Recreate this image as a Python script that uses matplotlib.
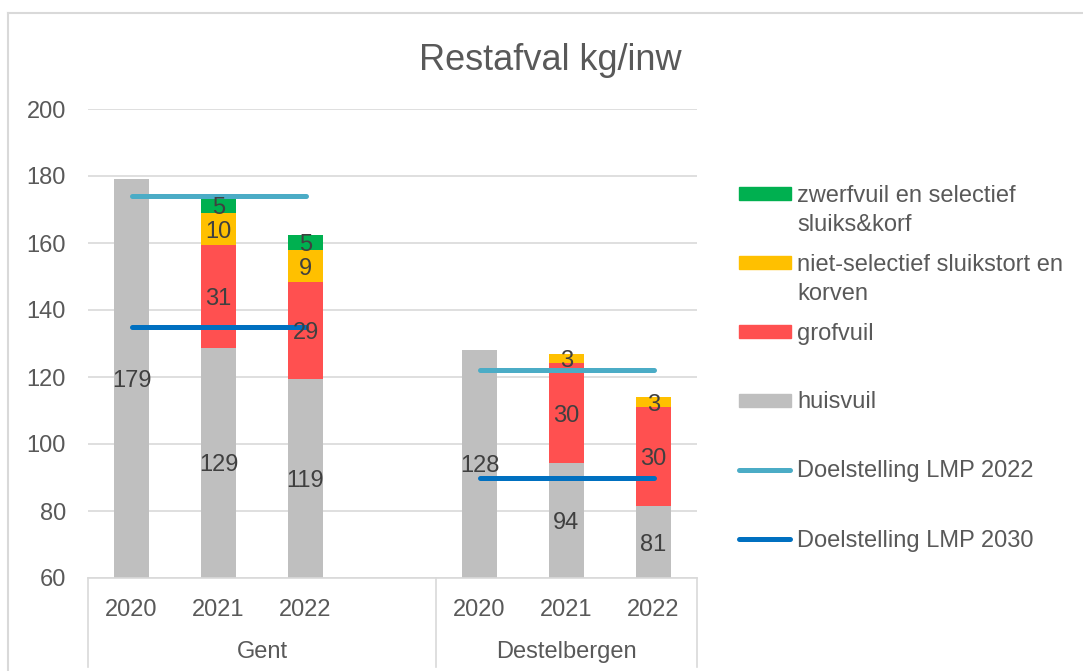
import numpy as np
import matplotlib
matplotlib.use('Agg')
import matplotlib.pyplot as plt
from matplotlib.patches import Rectangle
from matplotlib.lines import Line2D
import matplotlib.transforms as mtransforms

plt.rcParams['font.family'] = ['Liberation Sans', 'DejaVu Sans']

# data
years = ['2020', '2021', '2022', '2020', '2021', '2022']
groups = ['Gent', 'Destelbergen']
slots = [0, 1, 2, 4, 5, 6]          # one empty slot between the two groups
huisvuil = [179.0, 128.7, 119.4, 128.1, 94.3, 81.4]
grofvuil = [0.0, 30.6, 29.0, 0.0, 29.9, 29.5]
nietselectief = [0.0, 9.7, 9.4, 0.0, 2.8, 3.0]
zwerfvuil = [0.0, 4.6, 4.6, 0.0, 0.0, 0.0]
lmp2022 = [174, 174, 174, 122, 122, 122]
lmp2030 = [135, 135, 135, 90, 90, 90]

series = [('huisvuil', huisvuil, '#BFBFBF'),
          ('grofvuil', grofvuil, '#FF5050'),
          ('niet-selectief sluikstort en\nkorven', nietselectief, '#FFC000'),
          ('zwerfvuil en selectief\nsluiks&korf', zwerfvuil, '#00B050')]
lines = [('Doelstelling LMP 2022', lmp2022, '#4BACC6'),
         ('Doelstelling LMP 2030', lmp2030, '#0070C0')]

W, H = 1083, 671
ymin, ymax = 60, 200
txt = '#595959'
lab = '#404040'
grid = '#D9D9D9'
fs = 17

fig = plt.figure(figsize=(W / 100, H / 100), dpi=100)
ax = fig.add_axes([88 / W, 1 - 578 / H, (697 - 88) / W, (578 - 109) / H])

x = np.array(slots)
bottom = np.zeros(len(x))
for name, vals, col in series:
    vals = np.array(vals)
    ax.bar(x, vals, width=0.4, bottom=bottom, color=col, zorder=2)
    for xi, b, v in zip(x, bottom, vals):
        if v > 0:
            lo = max(b, ymin)
            ax.text(xi, (lo + b + v) / 2, f'{v:.0f}', ha='center', va='center_baseline',
                    fontsize=fs, color=lab, zorder=5)
    bottom = bottom + vals

for name, vals, col in lines:
    for g in range(2):
        ax.plot(x[g * 3:g * 3 + 3], vals[g * 3:g * 3 + 3], color=col, lw=3.6,
                solid_capstyle='round', zorder=4)

ax.set_xlim(-0.5, 6.5)
ax.set_ylim(ymin, ymax)
ax.set_yticks(range(60, 201, 20))
ax.tick_params(axis='y', length=0, pad=16, labelsize=fs, labelcolor=txt)
ax.set_xticks(slots)
ax.set_xticklabels(years)
ax.tick_params(axis='x', length=0, pad=15, labelsize=fs, labelcolor=txt)
ax.grid(axis='y', color=grid, lw=1.2, zorder=0)
ax.set_axisbelow(True)
for s in ['top', 'right', 'left']:
    ax.spines[s].set_visible(False)
ax.spines['bottom'].set_color(grid)
ax.spines['bottom'].set_linewidth(1.2)

# group labels and separators under the axis
tr = mtransforms.blended_transform_factory(ax.transData, ax.transAxes)
sep_low = -(667 - 578) / (578 - 109)
for xs in [-0.5, 3.5, 6.5]:
    ax.plot([xs, xs], [0, sep_low], transform=tr, color=grid, lw=1.2, clip_on=False)
for gx, gname in zip([1.5, 5.0], groups):
    ax.text(gx, -(652 - 578) / (578 - 109), gname, transform=tr, ha='center',
            va='center', fontsize=fs, color=txt)

fig.text(550 / W, 1 - 60 / H, 'Restafval kg/inw', ha='center', va='center',
         fontsize=26, color=txt)

# legend drawn by hand, rows 69 px apart
legend_items = [(n, c, 'patch') for n, v, c in series[::-1]] + \
               [(n, c, 'line') for n, v, c in lines]
for i, (name, col, kind) in enumerate(legend_items):
    yc = 193.5 + 69 * i
    if kind == 'patch':
        fig.add_artist(Rectangle((739 / W, 1 - (yc + 6.3) / H), 52 / W, 12.6 / H,
                                 transform=fig.transFigure, color=col))
    else:
        fig.add_artist(Line2D([739 / W, 790 / W], [1 - yc / H, 1 - yc / H],
                              transform=fig.transFigure, color=col, lw=3.6,
                              solid_capstyle='round'))
    nl = name.count('\n')
    fig.text(797 / W, 1 - (yc + 2 + 15 * nl) / H, name, ha='left', va='center',
             fontsize=fs, color=txt, linespacing=1.4)

# chart border (top and left visible)
fig.add_artist(Line2D([8 / W, 1], [1 - 13 / H, 1 - 13 / H], transform=fig.transFigure,
                      color=grid, lw=1.5))
fig.add_artist(Line2D([8 / W, 8 / W], [0, 1 - 13 / H], transform=fig.transFigure,
                      color=grid, lw=1.5))

plt.savefig('out.png', dpi=100)
